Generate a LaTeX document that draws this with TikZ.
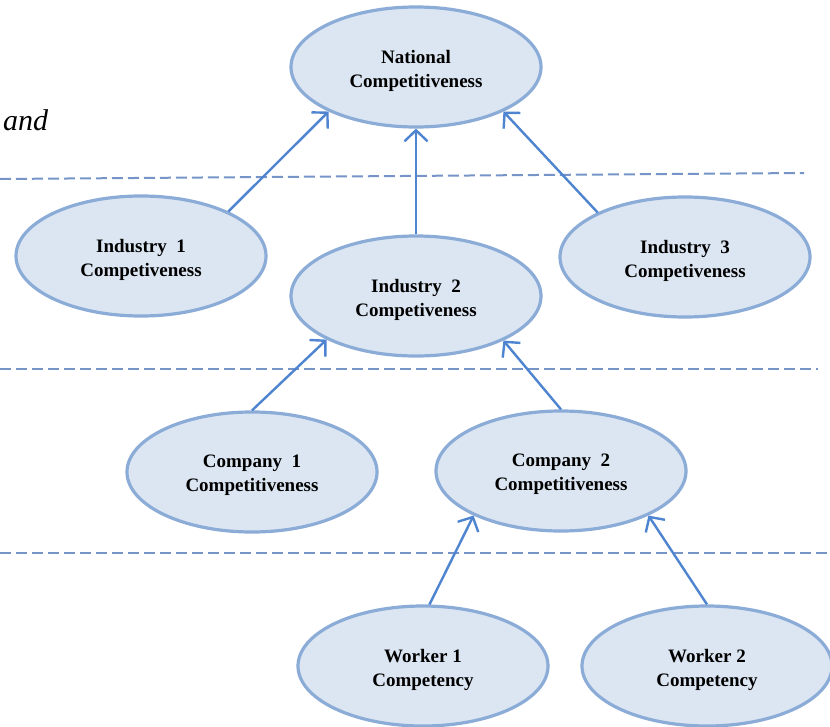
\documentclass[tikz,border=0pt]{standalone}
\usepackage{fontspec}
\setmainfont{Liberation Serif}
\usetikzlibrary{shapes.geometric,arrows.meta}
\definecolor{ovalfill}{RGB}{220,230,242}
\definecolor{ovaledge}{RGB}{140,172,216}
\definecolor{linkblue}{RGB}{78,132,208}
\definecolor{tierline}{RGB}{118,148,200}
\tikzset{
  oval/.style={ellipse, draw=ovaledge, fill=ovalfill, line width=3.2pt,
    minimum width=250pt, minimum height=120pt, inner sep=0pt},
  ovaltext/.style={align=center, inner sep=0pt, yshift=-3.5pt,
    font=\fontsize{19}{24}\selectfont\bfseries},
  link/.style={draw=linkblue, line width=2.4pt,
    -{Straight Barb[length=11pt,width=23pt,line width=2.4pt]}},
  tier/.style={draw=tierline, line width=2pt, dash pattern=on 11pt off 5pt}
}
% an oval with its caption set slightly below the centre
\newcommand{\ovalnode}[3]{%
  \node[oval] (#1) at (#2) {};
  \node[ovaltext] (#1-text) at (#1.center) {#3};
}
\begin{document}
\begin{tikzpicture}[x=1pt,y=-1pt]
\useasboundingbox (0,0) rectangle (830,726);
\fill[white] (0,0) rectangle (830,726);

% tier separators
\draw[tier] (0,179) -- (804,173);
\draw[tier] (0,369) -- (818,369);
\draw[tier] (0,553) -- (830,553);

% stray word from the surrounding text
\node[anchor=west, font=\fontsize{30}{32}\selectfont\itshape, inner sep=0pt] (andword) at (3,120) {and};

% ovals
\ovalnode{nat}{416,67}{National\\Competitiveness}
\ovalnode{ind1}{141,256}{Industry\ \ 1\\Competiveness}
\ovalnode{ind2}{416,296}{Industry\ \ 2\\Competiveness}
\ovalnode{ind3}{685,257}{Industry\ \ 3\\Competiveness}
\ovalnode{com1}{252,472}{Company\ \ 1\\Competitiveness}
\ovalnode{com2}{561,471}{Company\ \ 2\\Competitiveness}
\ovalnode{wk1}{423,666}{Worker 1\\Competency}
\ovalnode{wk2}{707,666}{Worker 2\\Competency}

% links upwards
\draw[link] (ind1.27) -- (nat.207);
\draw[link] (ind2.90) -- (nat.270);
\draw[link] (ind3.153) -- (nat.333);
\draw[link] (com1.90) -- (ind2.206);
\draw[link] (com2.90) -- (ind2.333);
\draw[link] (wk1.84) -- (com2.207);
\draw[link] (wk2.90) -- (com2.333);
\end{tikzpicture}
\end{document}
